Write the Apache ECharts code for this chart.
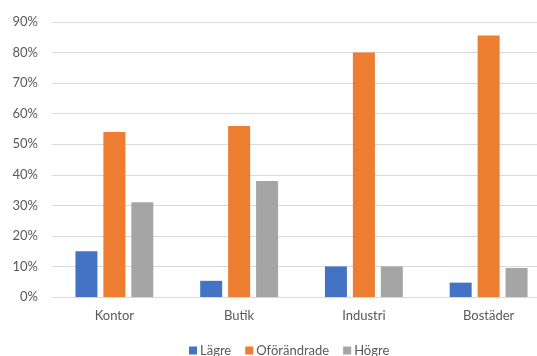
<!DOCTYPE html>
<html>
<head>
<meta charset="utf-8">
<script src="https://cdn.jsdelivr.net/npm/echarts@6/dist/echarts.min.js"></script>
<style>
  html, body { margin: 0; padding: 0; background: #fff; overflow: hidden; }
  #wrap { width: 537px; height: 356px; overflow: hidden; position: relative; }
  #chart { width: 551px; height: 356px; }
</style>
</head>
<body>
<div id="wrap"><div id="chart"></div></div>
<script>
// Property types on the x axis
const categories = ['Kontor', 'Butik', 'Industri', 'Bostäder'];
// Share of answers per outcome, in percent
const lagre = [15, 5.3, 10, 4.7];
const oforandrade = [54, 56, 80, 85.6];
const hogre = [31, 38, 10, 9.5];
// Y axis ticks (percent)
const yMin = 0, yMax = 90, yStep = 10;

const font = 'Lato, "Liberation Sans", sans-serif';
const chart = echarts.init(document.getElementById('chart'), null, { renderer: 'canvas' });

function barSeries(name, data, color) {
  return {
    name: name,
    type: 'bar',
    data: data,
    barWidth: 22,
    barGap: '27%',
    itemStyle: { color: color },
    emphasis: { disabled: true }
  };
}

chart.setOption({
  animation: false,
  textStyle: { fontFamily: font },
  grid: { left: 52, right: 0, top: 22, bottom: 59, containLabel: false },
  legend: {
    top: 344,
    left: 189,
    padding: 0,
    itemWidth: 8,
    itemHeight: 8,
    itemGap: 14,
    icon: 'rect',
    textStyle: { color: '#595959', fontSize: 13, lineHeight: 13, fontFamily: font, padding: [0, 0, 0, -2] },
    data: ['Lägre', 'Oförändrade', 'Högre']
  },
  xAxis: {
    type: 'category',
    data: categories,
    axisTick: { show: false },
    axisLine: { lineStyle: { color: '#d9d9d9', width: 1 } },
    axisLabel: { color: '#595959', fontSize: 13, margin: 12 }
  },
  yAxis: {
    type: 'value',
    min: yMin,
    max: yMax,
    interval: yStep,
    axisLine: { show: false },
    axisTick: { show: false },
    splitLine: { lineStyle: { color: '#d9d9d9', width: 1 } },
    axisLabel: { color: '#595959', fontSize: 13, margin: 14, formatter: v => v + '%' }
  },
  series: [
    barSeries('Lägre', lagre, '#4472C4'),
    barSeries('Oförändrade', oforandrade, '#ED7D31'),
    barSeries('Högre', hogre, '#A5A5A5')
  ]
});
</script>
</body>
</html>
